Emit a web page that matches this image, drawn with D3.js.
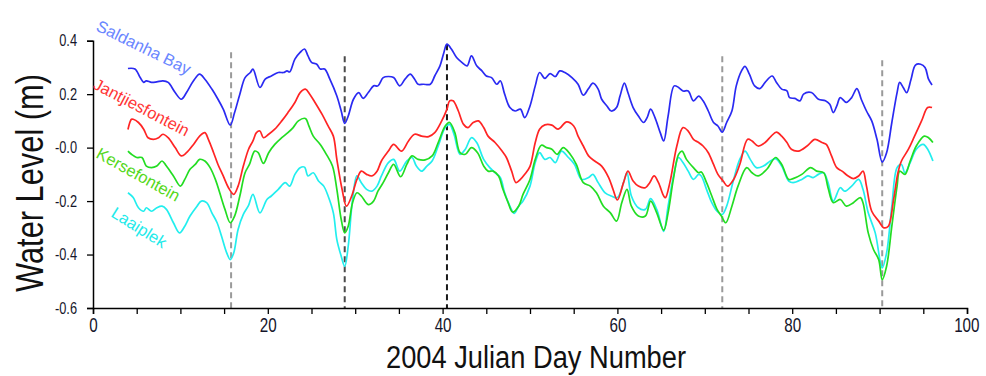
<!DOCTYPE html>
<html>
<head>
<meta charset="utf-8">
<script src="https://cdn.jsdelivr.net/npm/d3@7"></script>
<style>
  html, body { margin: 0; padding: 0; background: #fff; }
  svg { display: block; }
  text { font-family: "Liberation Sans", Arial, sans-serif; }
</style>
</head>
<body>
<svg id="chart" width="986" height="376"></svg>
<script>
// ---------- data ----------
const seriesNames = ["Saldanha Bay", "Jantjiesfontein", "Kersefontein", "Laaiplek"];

const saldanhaDays = [4.0,4.8,5.4,5.8,6.1,6.7,7.3,8.0,8.6,9.4,10.1,10.7,11.5,12.2,12.8,13.6,14.3,14.9,15.7,16.2,16.8,17.4,18.0,18.3,19.1,19.7,20.4,21.2,21.8,22.2,22.5,23.1,23.7,24.2,24.6,25.0,25.6,26.0,26.5,27.1,27.9,28.4,28.8,29.2,29.8,30.4,30.9,31.5,32.1,32.6,33.2,33.8,34.4,35.1,35.7,36.3,36.8,37.2,37.8,38.6,39.1,39.7,40.1,40.5,41.0,41.6,42.2,42.8,43.3,43.9,44.5,45.0,45.6,46.2,46.6,47.1,47.7,48.3,48.9,49.4,50.0,50.6,51.1,51.7,52.3,52.9,53.4,54.0,54.8,55.5,56.1,56.7,57.2,57.8,58.2,58.8,59.3,59.9,60.3,60.8,61.2,61.8,62.4,63.0,63.4,63.8,64.3,64.9,65.3,65.8,66.5,67.0,67.5,68.1,68.7,69.3,69.8,70.4,71.0,71.5,72.0,72.5,73.1,73.6,74.2,74.6,75.1,75.7,76.3,76.9,77.7,78.2,78.8,79.4,79.7,80.3,80.9,81.3,82.2,83.0,83.8,84.3,84.7,85.1,85.5,86.2,86.8,87.4,87.9,88.5,89.1,89.7,90.3,90.8,91.4,92.0,92.3,92.7,93.1,93.6,94.1,94.7,95.2,95.6,96.0];
const saldanhaLevel = [0.296,0.294,0.262,0.244,0.250,0.244,0.246,0.250,0.244,0.206,0.181,0.206,0.250,0.275,0.256,0.219,0.181,0.144,0.084,0.131,0.200,0.262,0.281,0.294,0.225,0.256,0.268,0.281,0.281,0.287,0.283,0.331,0.356,0.369,0.343,0.319,0.312,0.294,0.294,0.256,0.193,0.137,0.091,0.118,0.181,0.206,0.184,0.206,0.231,0.231,0.262,0.266,0.262,0.231,0.256,0.275,0.256,0.237,0.237,0.237,0.268,0.306,0.350,0.387,0.369,0.337,0.319,0.306,0.343,0.306,0.287,0.268,0.262,0.237,0.250,0.200,0.150,0.137,0.144,0.112,0.156,0.231,0.281,0.259,0.277,0.266,0.287,0.281,0.262,0.237,0.196,0.221,0.241,0.219,0.181,0.156,0.137,0.150,0.193,0.241,0.206,0.150,0.118,0.094,0.112,0.144,0.112,0.056,0.025,0.118,0.231,0.225,0.212,0.212,0.175,0.193,0.175,0.137,0.094,0.081,0.058,0.094,0.137,0.231,0.287,0.304,0.275,0.231,0.221,0.244,0.268,0.244,0.219,0.212,0.187,0.184,0.175,0.200,0.206,0.181,0.175,0.162,0.131,0.156,0.187,0.169,0.187,0.221,0.181,0.137,0.100,0.031,-0.054,-0.019,0.094,0.206,0.244,0.225,0.206,0.256,0.309,0.312,0.300,0.256,0.234];

const jantjiesDays = [4.0,4.4,4.6,5.2,5.8,6.3,6.9,7.5,8.0,8.6,9.4,10.1,10.7,11.5,12.2,12.8,13.2,13.8,14.3,14.9,15.5,16.1,16.6,17.2,17.8,18.3,18.7,19.1,19.5,20.1,20.8,21.6,22.3,23.1,23.7,24.3,24.8,25.4,26.2,26.9,27.5,27.9,28.5,29.0,29.6,30.2,30.7,31.3,31.9,32.5,33.0,33.8,34.4,35.3,36.1,36.8,37.6,38.4,39.1,39.9,40.5,40.8,41.2,41.8,42.4,42.9,43.5,44.1,44.7,45.2,46.0,46.8,47.3,47.9,48.4,48.9,49.4,50.0,50.6,51.1,51.7,52.5,53.2,54.2,55.0,55.5,56.1,56.7,57.4,58.2,59.0,59.5,60.0,60.7,61.2,61.8,62.4,63.2,63.7,64.2,64.7,65.3,65.5,66.0,66.8,67.5,68.1,68.7,69.3,69.8,70.4,71.0,71.5,72.1,72.6,73.3,74.0,74.9,75.4,76.1,76.9,77.6,78.2,78.8,79.4,79.9,80.7,81.7,82.6,83.4,83.9,84.5,85.1,85.7,86.4,87.0,87.6,88.1,88.5,89.1,89.9,90.5,91.0,91.6,92.1,92.5,93.3,94.0,94.8,95.5,96.0];
const jantjiesLevel = [0.068,0.106,0.106,0.094,0.069,0.037,0.031,0.037,0.050,0.037,0.000,-0.031,-0.019,0.012,0.043,0.056,0.031,-0.019,-0.063,-0.106,-0.150,-0.175,-0.144,-0.069,-0.006,0.025,0.056,0.062,0.037,0.050,0.069,0.100,0.131,0.169,0.206,0.219,0.200,0.169,0.125,0.081,0.043,-0.044,-0.156,-0.219,-0.181,-0.119,-0.088,-0.100,-0.106,-0.088,-0.050,-0.013,0.012,-0.013,0.025,0.050,0.043,0.041,0.056,0.100,0.144,0.175,0.175,0.137,0.087,0.075,0.094,0.100,0.075,0.043,0.019,-0.013,-0.037,-0.088,-0.131,-0.119,-0.100,-0.070,0.019,0.069,0.085,0.084,0.069,0.096,0.081,0.043,0.006,-0.031,-0.050,-0.069,-0.112,-0.156,-0.196,-0.131,-0.088,-0.125,-0.144,-0.150,-0.131,-0.106,-0.131,-0.181,-0.187,-0.131,0.006,0.075,0.062,0.031,0.019,0.006,-0.019,-0.063,-0.100,-0.125,-0.144,-0.119,-0.063,0.031,0.025,0.006,0.019,0.043,0.058,0.043,0.019,-0.006,-0.013,0.006,0.031,0.019,0.012,-0.031,-0.075,-0.088,-0.106,-0.116,-0.106,-0.088,-0.144,-0.238,-0.275,-0.300,-0.294,-0.194,-0.094,-0.050,-0.006,0.043,0.100,0.150,0.150];

const kerseDays = [4.0,4.4,5.0,5.6,6.1,6.7,7.3,7.9,8.4,9.2,10.0,10.5,11.1,11.7,12.2,12.8,13.4,14.0,14.5,15.1,15.7,16.2,16.8,17.4,17.9,18.5,18.9,19.5,20.1,20.8,21.6,22.3,22.9,23.5,24.3,24.7,25.2,26.0,26.7,27.4,27.9,28.4,28.8,29.2,29.7,30.2,30.7,31.5,32.1,32.6,33.2,33.8,34.4,35.2,35.9,36.5,37.2,38.0,38.8,39.5,40.3,40.8,41.4,42.0,42.6,43.3,44.0,44.7,45.2,45.8,46.4,46.9,47.5,48.0,48.7,49.2,50.0,50.6,51.3,51.9,52.5,53.1,53.8,54.6,55.3,56.1,56.9,57.6,58.4,59.2,59.9,60.5,61.1,61.6,62.4,63.2,63.8,64.5,65.3,65.8,66.4,67.0,67.4,67.9,68.7,69.3,69.6,70.2,70.8,71.4,71.9,72.4,73.1,73.8,74.8,75.4,76.1,77.1,78.1,78.8,79.6,80.1,81.1,82.1,82.8,83.6,84.1,84.7,85.5,86.2,87.0,87.8,88.1,88.7,89.3,89.9,90.3,90.8,91.4,92.0,92.3,92.9,93.5,94.2,95.1,95.6,96.1];
const kerseLevel = [-0.013,-0.025,-0.037,-0.037,-0.069,-0.075,-0.069,-0.050,-0.069,-0.106,-0.144,-0.119,-0.081,-0.063,-0.044,-0.050,-0.075,-0.119,-0.169,-0.231,-0.281,-0.256,-0.181,-0.094,-0.063,-0.013,-0.019,-0.059,-0.019,0.012,0.037,0.056,0.075,0.100,0.109,0.081,0.043,0.012,-0.025,-0.069,-0.156,-0.269,-0.319,-0.294,-0.206,-0.169,-0.181,-0.213,-0.200,-0.163,-0.131,-0.094,-0.063,-0.109,-0.063,-0.031,-0.044,-0.046,-0.031,0.019,0.081,0.094,0.056,-0.019,-0.025,0.000,-0.019,-0.069,-0.088,-0.088,-0.106,-0.156,-0.206,-0.241,-0.219,-0.175,-0.119,-0.044,0.009,0.000,-0.006,-0.025,0.000,-0.025,-0.063,-0.131,-0.144,-0.169,-0.219,-0.244,-0.275,-0.206,-0.156,-0.219,-0.256,-0.256,-0.200,-0.244,-0.309,-0.244,-0.119,-0.025,-0.013,-0.044,-0.075,-0.094,-0.091,-0.131,-0.181,-0.231,-0.256,-0.281,-0.219,-0.144,-0.075,-0.094,-0.106,-0.081,-0.037,-0.063,-0.119,-0.116,-0.100,-0.075,-0.088,-0.094,-0.150,-0.206,-0.194,-0.219,-0.206,-0.187,-0.206,-0.319,-0.381,-0.419,-0.494,-0.444,-0.294,-0.144,-0.088,-0.100,-0.050,0.006,0.043,0.037,0.019];

const laaiplekDays = [4.0,4.6,5.2,5.8,6.1,6.7,7.3,7.9,8.4,9.2,9.9,10.5,11.1,11.9,12.4,13.0,13.6,14.2,14.7,15.3,15.7,16.1,16.6,17.2,17.8,18.3,19.1,19.9,20.4,21.2,22.0,22.5,23.1,23.7,24.2,24.6,25.2,25.8,26.4,26.9,27.5,27.9,28.4,28.8,29.2,29.7,30.2,30.7,31.3,31.9,32.5,33.0,33.8,34.4,35.1,35.9,36.5,37.0,37.6,38.2,38.8,39.5,40.3,40.8,41.3,42.0,42.6,43.3,43.9,44.7,45.4,46.0,46.6,47.1,47.7,48.2,48.7,49.2,50.0,50.6,51.1,51.7,52.3,52.9,53.6,54.4,55.1,55.9,56.7,57.2,57.8,58.6,59.3,60.0,60.7,61.1,61.6,62.4,63.2,63.8,64.5,65.3,65.8,66.5,67.0,67.5,68.1,68.7,69.3,69.6,70.2,70.8,71.4,72.0,72.5,73.3,74.0,74.6,75.2,75.9,76.7,77.5,78.1,78.8,79.6,80.1,81.1,81.8,82.4,83.0,83.6,84.1,84.7,85.5,86.0,86.8,87.6,88.1,88.7,89.5,90.1,90.3,90.8,91.4,92.0,92.5,92.9,93.5,94.2,95.0,95.5,96.1];
const laaiplekLevel = [-0.169,-0.187,-0.225,-0.238,-0.225,-0.238,-0.225,-0.219,-0.231,-0.281,-0.319,-0.294,-0.256,-0.219,-0.200,-0.206,-0.244,-0.281,-0.331,-0.394,-0.419,-0.394,-0.306,-0.250,-0.216,-0.175,-0.244,-0.194,-0.181,-0.156,-0.131,-0.144,-0.100,-0.075,-0.073,-0.106,-0.094,-0.125,-0.144,-0.181,-0.244,-0.344,-0.406,-0.444,-0.369,-0.194,-0.106,-0.131,-0.156,-0.163,-0.144,-0.106,-0.056,-0.044,-0.088,-0.050,-0.037,-0.069,-0.088,-0.069,-0.050,0.006,0.075,0.087,0.050,-0.025,-0.006,0.037,0.019,-0.044,-0.075,-0.094,-0.112,-0.169,-0.219,-0.246,-0.219,-0.200,-0.144,-0.056,-0.019,-0.044,-0.037,-0.056,-0.013,-0.037,-0.063,-0.119,-0.112,-0.100,-0.131,-0.169,-0.181,-0.187,-0.131,-0.094,-0.181,-0.225,-0.231,-0.191,-0.231,-0.313,-0.219,-0.094,-0.037,-0.056,-0.088,-0.119,-0.100,-0.106,-0.156,-0.206,-0.238,-0.250,-0.219,-0.119,-0.044,-0.013,-0.044,-0.075,-0.069,-0.050,-0.041,-0.069,-0.125,-0.131,-0.119,-0.106,-0.112,-0.100,-0.094,-0.131,-0.200,-0.150,-0.163,-0.144,-0.119,-0.156,-0.244,-0.319,-0.431,-0.450,-0.394,-0.219,-0.075,-0.063,-0.094,-0.056,-0.006,0.012,-0.006,-0.050];

const eventDays = [15.8, 28.8, 40.5, 72.0, 90.3];
const eventTops = [0.357, 0.342, 0.387, 0.342, 0.327];
const eventColors = ["#9a9a9a", "#4a4a4a", "#1a1a1a", "#9a9a9a", "#9a9a9a"];

const xTicks = [0, 20, 40, 60, 80, 100];
const xMinorTicks = d3.range(0, 101, 5);
const yTicks = [0.4, 0.2, 0.0, -0.2, -0.4, -0.6];
const yTickLabels = ["0.4", "0.2", "-0.0", "-0.2", "-0.4", "-0.6"];

const lineColors = ["#2a2af2", "#ff2424", "#22dd22", "#22eeee"];
const labelColors = ["#6a86ff", "#ff3535", "#55d820", "#22eaea"];

// ---------- layout ----------
const svg = d3.select("#chart");
const x = d3.scaleLinear().domain([0, 100]).range([93, 967]);
const y = d3.scaleLinear().domain([-0.6, 0.4]).range([308, 40.7]);

function condense(sel, ratio) {
  sel.each(function () {
    const len = this.getComputedTextLength();
    if (len > 0) {
      d3.select(this).attr("textLength", len * ratio).attr("lengthAdjust", "spacingAndGlyphs");
    }
  });
}

// event dashed lines
eventDays.forEach((d, i) => {
  svg.append("line")
    .attr("x1", x(d)).attr("x2", x(d))
    .attr("y1", y(eventTops[i])).attr("y2", y(-0.6))
    .attr("stroke", eventColors[i])
    .attr("stroke-width", 2)
    .attr("stroke-dasharray", "6,4");
});

// series lines
const series = [
  [saldanhaDays, saldanhaLevel],
  [jantjiesDays, jantjiesLevel],
  [kerseDays, kerseLevel],
  [laaiplekDays, laaiplekLevel]
];
const line = d3.line().x(d => x(d[0])).y(d => y(d[1])).curve(d3.curveCatmullRom.alpha(0.5));
[3, 2, 1, 0].forEach(i => {
  const pts = series[i][0].map((d, k) => [d, series[i][1][k]]);
  svg.append("path")
    .datum(pts)
    .attr("d", line)
    .attr("fill", "none")
    .attr("stroke", lineColors[i])
    .attr("stroke-width", 1.7)
    .attr("stroke-linejoin", "round");
});

// axes
const xAxis = d3.axisBottom(x).tickValues(xMinorTicks)
  .tickFormat(d => xTicks.includes(d) ? String(d) : "")
  .tickSize(6).tickPadding(4);
const gx = svg.append("g").attr("transform", "translate(0,308)").call(xAxis);
gx.selectAll("text").attr("font-size", 20).attr("fill", "#15152a")
  .attr("font-family", "'Liberation Sans', Arial, sans-serif");
condense(gx.selectAll("text"), 0.76);
// keep the last label inside the picture
gx.selectAll(".tick").filter(d => d === 100).select("text")
  .attr("text-anchor", "end").attr("x", 12);

const yAxis = d3.axisLeft(y).tickValues(yTicks)
  .tickFormat((d, i) => yTickLabels[i])
  .tickSize(6).tickPadding(10);
const gy = svg.append("g").attr("transform", "translate(93,0)").call(yAxis);
gy.selectAll("text").attr("font-size", 16).attr("fill", "#15152a")
  .attr("font-family", "'Liberation Sans', Arial, sans-serif");
condense(gy.selectAll("text"), 0.8);

svg.selectAll(".domain").attr("stroke", "#000").attr("stroke-width", 1.5);
svg.selectAll(".tick line").attr("stroke", "#000").attr("stroke-width", 1.3);

// axis titles
svg.append("text")
  .attr("transform", "translate(43,183) rotate(-90)")
  .attr("text-anchor", "middle")
  .attr("font-size", 39)
  .attr("fill", "#111")
  .attr("textLength", 218).attr("lengthAdjust", "spacingAndGlyphs")
  .text("Water Level (m)");

svg.append("text")
  .attr("x", 536).attr("y", 368)
  .attr("text-anchor", "middle")
  .attr("font-size", 31)
  .attr("fill", "#111")
  .attr("textLength", 300).attr("lengthAdjust", "spacingAndGlyphs")
  .text("2004 Julian Day Number");

// series labels (rotated)
const labelPos = [[95, 30, 26], [92, 88, 27.5], [95, 157, 29], [110, 216, 32]];
seriesNames.forEach((name, i) => {
  const p = labelPos[i];
  svg.append("text")
    .attr("transform", `translate(${p[0]},${p[1]}) rotate(${p[2]})`)
    .attr("font-size", 16.5)
    .attr("fill", labelColors[i])
    .text(name);
});
</script>
</body>
</html>
